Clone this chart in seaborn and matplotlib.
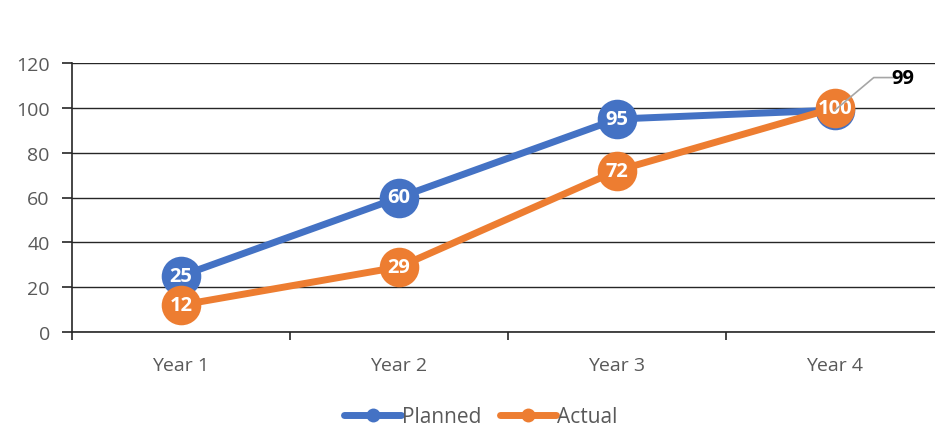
import matplotlib
matplotlib.use("Agg")
import matplotlib.pyplot as plt
from matplotlib.ticker import FixedLocator
from matplotlib.lines import Line2D
import seaborn as sns
import pandas as pd

# Chart data
years = ["Year 1", "Year 2", "Year 3", "Year 4"]
planned = [25, 60, 95, 99]
actual = [12, 29, 72, 100]
y_ticks = [0, 20, 40, 60, 80, 100, 120]

BLUE = "#4472C4"
ORANGE = "#ED7D31"
TEXT_GRAY = "#595959"
AXIS_DARK = "#262626"

sns.set_theme(style="white")
plt.rcParams["font.family"] = ["Open Sans", "DejaVu Sans"]

df = pd.DataFrame({
    "pos": list(range(len(years))) * 2,
    "value": planned + actual,
    "series": ["Planned"] * len(years) + ["Actual"] * len(years),
})

fig = plt.figure(figsize=(9.35, 4.27), dpi=100)
ax = fig.add_axes([72 / 935, 94 / 427, 872 / 935, 269 / 427])

sns.lineplot(
    data=df, x="pos", y="value", hue="series",
    palette={"Planned": BLUE, "Actual": ORANGE},
    hue_order=["Planned", "Actual"],
    marker="o", markersize=28.5, linewidth=5,
    markeredgewidth=0, ax=ax, legend=False, sort=False,
)
for i, line in enumerate(ax.lines):
    line.set_zorder(3 + 2 * i)
    line.set_solid_capstyle("round")

# Value labels inside the markers
for i, v in enumerate(planned):
    if i == len(planned) - 1:
        continue
    ax.text(i, v, str(v), ha="center", va="center", color="white",
            fontsize=14.5, fontweight="bold", zorder=4)
for i, v in enumerate(actual):
    ax.text(i, v, str(v), ha="center", va="center", color="white",
            fontsize=14.5, fontweight="bold", zorder=6)

# Callout for the planned point hidden under the actual marker
last = len(planned) - 1
ax.annotate(
    str(planned[last]), xy=(last, planned[last]), xytext=(last + 0.26, 113.5),
    ha="left", va="center", fontsize=14.5, fontweight="bold", color="black",
    arrowprops=dict(arrowstyle="-", color="#A6A6A6", lw=1.2,
                    connectionstyle="angle,angleA=0,angleB=40,rad=0",
                    patchA=None, shrinkA=6, shrinkB=0),
    zorder=7,
)

ax.set_xlim(-0.5, len(years) - 0.5)
ax.set_ylim(0, 120)
ax.set_yticks(y_ticks)
ax.set_yticklabels([str(t) for t in y_ticks])
ax.set_xticks(range(len(years)))
ax.set_xticklabels(years)
ax.xaxis.set_minor_locator(FixedLocator([i - 0.5 for i in range(len(years) + 1)]))

ax.grid(axis="y", color=AXIS_DARK, linewidth=1.0, zorder=0)
ax.set_axisbelow(True)
ax.set_xlabel("")
ax.set_ylabel("")

for side in ["top", "right"]:
    ax.spines[side].set_visible(False)
for side in ["left", "bottom"]:
    ax.spines[side].set_color(AXIS_DARK)
    ax.spines[side].set_linewidth(1.2)

ax.tick_params(axis="y", which="major", length=7, width=1.2, color=AXIS_DARK,
               direction="out", left=True, labelsize=14, labelcolor=TEXT_GRAY, pad=9)
ax.tick_params(axis="x", which="major", length=0, labelsize=14,
               labelcolor=TEXT_GRAY, pad=17)
ax.tick_params(axis="x", which="minor", length=6, width=1.2, color=AXIS_DARK,
               direction="out", bottom=True)

# Legend below the plot
handles = [
    Line2D([], [], color=BLUE, lw=5, marker="o", markersize=10, markeredgewidth=0),
    Line2D([], [], color=ORANGE, lw=5, marker="o", markersize=10, markeredgewidth=0),
]
fig.legend(handles, ["Planned", "Actual"], loc="center",
           bbox_to_anchor=(481 / 935, 9 / 427),
           ncol=2, frameon=False, fontsize=15, handlelength=2.7, handletextpad=0.05,
           columnspacing=0.9, labelcolor=TEXT_GRAY)

fig.savefig("out.png", dpi=100)
